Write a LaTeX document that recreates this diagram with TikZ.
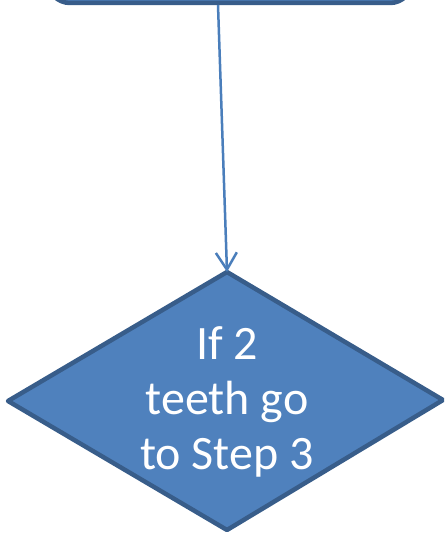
\documentclass[tikz,border=0pt]{standalone}
\usepackage{fontspec}
\setmainfont{Carlito}
\usetikzlibrary{arrows.meta}
\definecolor{boxfill}{HTML}{4F81BD}
\definecolor{boxline}{HTML}{385D8A}
\definecolor{arrowline}{HTML}{4A7EBB}
\begin{document}
\begin{tikzpicture}[x=1pt,y=-1pt,
  shapebox/.style={fill=boxfill,draw=boxline,line width=4.5pt,line join=round},
  conn/.style={draw=arrowline,line width=2.5pt,-{Straight Barb[length=17pt,width=21pt,line width=2.5pt]}},
  label/.style={text=white,font=\fontsize{48}{55}\selectfont,align=center,inner sep=0pt}]
\useasboundingbox (0,0) rectangle (444,534);
\clip (0,0) rectangle (444,534);
\draw[shapebox,rounded corners=22pt] (48,-60) rectangle (412,3);
\coordinate (start) at (218,5);
\coordinate (dtop) at (227,272);
\path[shapebox] (dtop) -- (443,400) -- (227,530) -- (8,401) -- cycle;
\draw[conn] (start) -- (dtop);
\node[label] (txt) at (227,402) {If 2\\teeth go\\to Step 3};
\end{tikzpicture}
\end{document}
